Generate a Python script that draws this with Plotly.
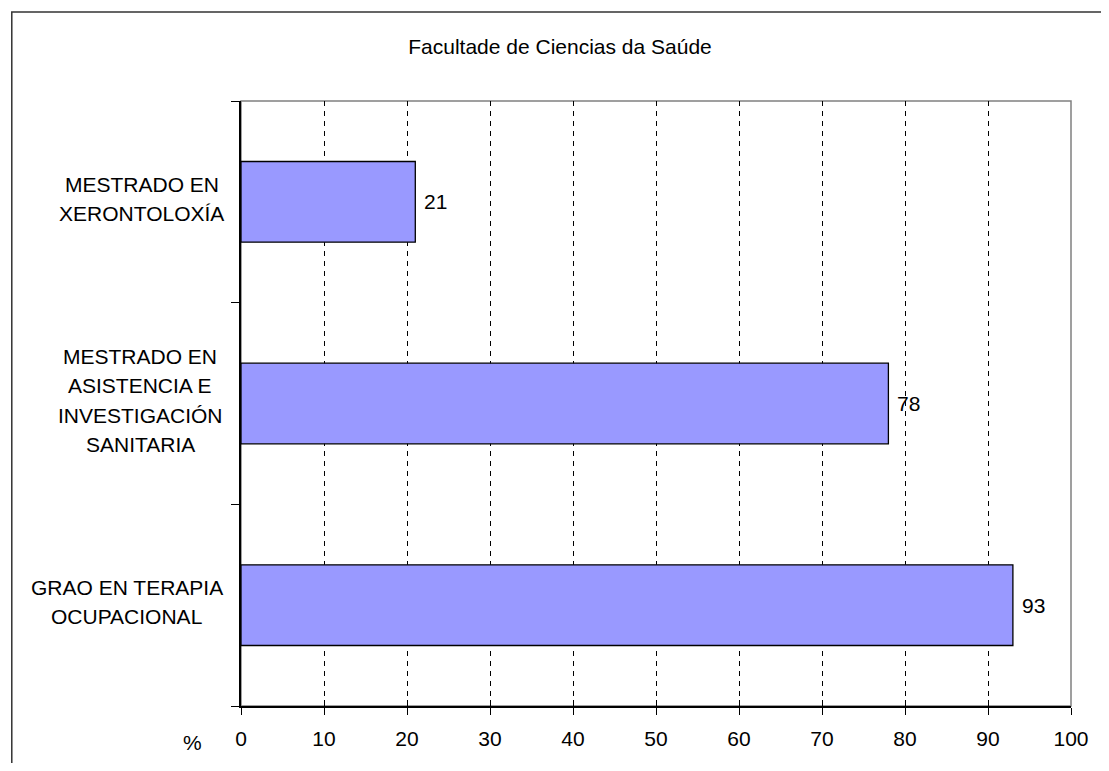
import plotly.graph_objects as go

categories = ["GRAO EN TERAPIA<br>OCUPACIONAL",
              "MESTRADO EN<br>ASISTENCIA E<br>INVESTIGACIÓN<br>SANITARIA",
              "MESTRADO EN<br>XERONTOLOXÍA"]
values = [93, 78, 21]
x_ticks = [0, 10, 20, 30, 40, 50, 60, 70, 80, 90, 100]
title_text = "Facultade de Ciencias da Saúde"
axis_unit = "%"

FONT = "Liberation Sans, Arial, sans-serif"
OFF = 8  # default page body margin
W, H = 1109 - 2 * OFF, 771 - 2 * OFF
# plot area in reference page pixels: x 241..1082, y 101..706
L, R, T, B = 241 - OFF, W - (1082 - OFF), 101 - OFF, H - (706 - OFF)
pw, ph = W - L - R, H - T - B

def px_to_paper_x(px):  # px in reference page pixels
    return (px - OFF - L) / pw

def px_to_paper_y(py):
    return (H - B - (py - OFF)) / ph

# horizontal centres (page px) of each category's label block
label_centres = [125, 139, 140.5]

fig = go.Figure()
fig.add_trace(go.Bar(
    y=categories, x=values, orientation="h",
    marker=dict(color="#9999FF", line=dict(color="black", width=1.3)),
    width=0.4, hoverinfo="skip", showlegend=False,
))
# overlay axis for the inside half of the crossing ticks
fig.add_trace(go.Scatter(x=[None], y=[None], xaxis="x2", yaxis="y", showlegend=False))

LINE_GAP = 29.5

annotations = []
for c, v, cx in zip(categories, values, label_centres):
    annotations.append(dict(x=v, y=c, xref="x", yref="y", text=str(v), showarrow=False,
                            xanchor="left", yanchor="middle", xshift=7,
                            font=dict(family=FONT, size=21, color="black")))
    lines = c.split("<br>")
    n = len(lines)
    for i, line in enumerate(lines):
        k = i - (n - 1) / 2
        annotations.append(dict(x=px_to_paper_x(cx), y=c, xref="paper", yref="y", text=line,
                                showarrow=False, xanchor="center", yanchor="middle",
                                yshift=3 - k * LINE_GAP,
                                font=dict(family=FONT, size=21, color="black")))
annotations.append(dict(x=px_to_paper_x(192), y=px_to_paper_y(742), xref="paper", yref="paper",
                        text=axis_unit, showarrow=False, xanchor="center", yanchor="middle",
                        font=dict(family=FONT, size=21, color="black")))

shapes = [
    # plot area border (gray)
    dict(type="rect", xref="paper", yref="paper", x0=0, x1=1, y0=0, y1=1,
         line=dict(color="#808080", width=1.5), layer="below"),
    # outer chart border
    dict(type="rect", xref="paper", yref="paper",
         x0=px_to_paper_x(OFF + 0.75), x1=px_to_paper_x(1118),
         y0=px_to_paper_y(800), y1=px_to_paper_y(12),
         line=dict(color="#333333", width=1.5), layer="below"),
]

fig.update_layout(
    width=W, height=H,
    margin=dict(l=L, r=R, t=T, b=B),
    paper_bgcolor="white", plot_bgcolor="white",
    title=dict(text=title_text, x=(560 - OFF) / W, xanchor="center",
               y=1 - (47 - OFF) / H, yanchor="middle",
               font=dict(family=FONT, size=21, color="black")),
    xaxis=dict(range=[0, 100], tickvals=x_ticks, ticktext=[str(t) for t in x_ticks],
               showgrid=True, gridcolor="black", gridwidth=1, griddash="5px,5px",
               showline=True, linecolor="black", linewidth=1.5,
               ticks="outside", ticklen=7, tickcolor="black", tickwidth=1,
               ticklabelstandoff=6,
               tickfont=dict(family=FONT, size=21, color="black"),
               zeroline=False, fixedrange=True),
    xaxis2=dict(range=[0, 100], tickvals=x_ticks, overlaying="x", anchor="y", side="bottom",
                showgrid=False, showticklabels=False, showline=False,
                ticks="inside", ticklen=6, tickcolor="black", tickwidth=1, zeroline=False),
    yaxis=dict(type="category", categoryorder="array", categoryarray=categories,
               range=[-0.5, 2.5], showticklabels=False, showgrid=False,
               showline=True, linecolor="black", linewidth=1.5,
               ticks="outside", tickson="boundaries", ticklen=8, tickcolor="black", tickwidth=1,
               zeroline=False, fixedrange=True),
    bargap=0.6,
    annotations=annotations,
    shapes=shapes,
)

fig.write_html("out.html")
